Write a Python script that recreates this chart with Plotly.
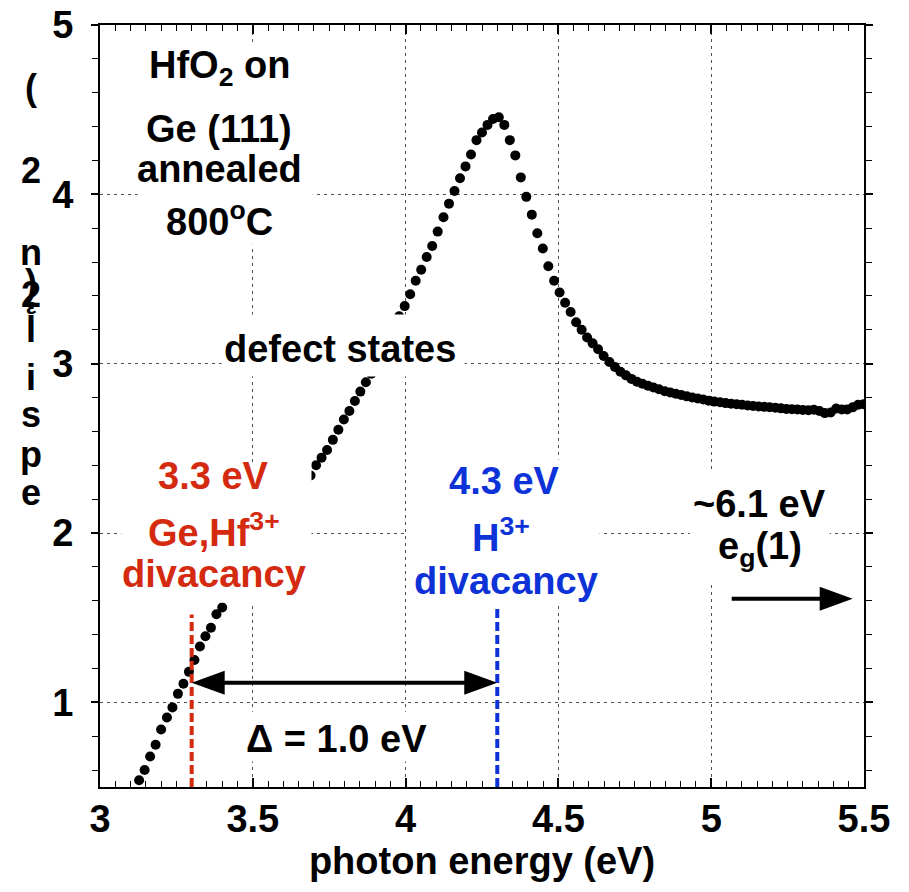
import plotly.graph_objects as go

# ---------------- data ----------------
energy_ev = [
    3.128, 3.146, 3.164, 3.182, 3.200, 3.219, 3.237, 3.255, 3.273, 3.291,
    3.309, 3.327, 3.345, 3.363, 3.381, 3.400, 3.418, 3.436, 3.454, 3.472,
    3.490, 3.508, 3.526, 3.544, 3.562, 3.581, 3.599, 3.617, 3.635, 3.653,
    3.671, 3.689, 3.707, 3.725, 3.743, 3.762, 3.780, 3.798, 3.816, 3.834,
    3.852, 3.870, 3.888, 3.906, 3.924, 3.943, 3.961, 3.979, 3.997, 4.015,
    4.033, 4.051, 4.069, 4.087, 4.105, 4.124, 4.142, 4.160, 4.178, 4.196,
    4.214, 4.232, 4.250, 4.268, 4.286, 4.305, 4.323, 4.341, 4.359, 4.377,
    4.395, 4.413, 4.431, 4.449, 4.467, 4.486, 4.504, 4.522, 4.540, 4.558,
    4.576, 4.594, 4.612, 4.630, 4.648, 4.667, 4.685, 4.703, 4.721, 4.739,
    4.757, 4.775, 4.793, 4.811, 4.829, 4.848, 4.866, 4.884, 4.902, 4.920,
    4.938, 4.956, 4.974, 4.992, 5.010, 5.029, 5.047, 5.065, 5.083, 5.101,
    5.119, 5.137, 5.155, 5.173, 5.191, 5.210, 5.228, 5.246, 5.264, 5.282,
    5.300, 5.318, 5.336, 5.354, 5.372, 5.391, 5.409, 5.427, 5.445, 5.463,
    5.481, 5.499,
]
epsilon2 = [
    0.54, 0.60, 0.68, 0.75, 0.84, 0.91, 0.97, 1.05, 1.11, 1.18,
    1.25, 1.33, 1.39, 1.44, 1.52, 1.56, 1.62, 1.68, 1.73, 1.79,
    1.84, 1.89, 1.94, 1.99, 2.04, 2.08, 2.12, 2.17, 2.21, 2.25,
    2.29, 2.34, 2.40, 2.445, 2.49, 2.55, 2.61, 2.67, 2.72, 2.78,
    2.835, 2.89, 2.94, 3.00, 3.07, 3.13, 3.20, 3.28, 3.34, 3.41,
    3.49, 3.555, 3.63, 3.695, 3.78, 3.865, 3.945, 4.02, 4.095, 4.165,
    4.235, 4.32, 4.365, 4.41, 4.445, 4.455, 4.41, 4.32, 4.23, 4.10,
    3.985, 3.88, 3.77, 3.68, 3.575, 3.49, 3.42, 3.36, 3.305, 3.245,
    3.20, 3.155, 3.12, 3.085, 3.045, 3.01, 2.98, 2.952, 2.931, 2.91,
    2.893, 2.881, 2.87, 2.859, 2.849, 2.837, 2.83, 2.822, 2.815, 2.807,
    2.80, 2.794, 2.788, 2.781, 2.776, 2.772, 2.767, 2.763, 2.76, 2.757,
    2.753, 2.75, 2.747, 2.745, 2.743, 2.74, 2.736, 2.733, 2.731, 2.729,
    2.727, 2.725, 2.728, 2.72, 2.708, 2.712, 2.735, 2.73, 2.73, 2.742,
    2.757, 2.76,
]
x_tick_vals = [3, 3.5, 4, 4.5, 5, 5.5]
x_tick_text = ["3", "3.5", "4", "4.5", "5", "5.5"]
y_tick_vals = [1, 2, 3, 4, 5]
y_tick_text = ["1", "2", "3", "4", "5"]

defect_ge_hf_ev = 3.3      # red marker line
defect_h_ev = 4.3          # blue marker line

RED = "#d42a10"
BLUE = "#0d33d8"
FONT = "Liberation Sans, Arial, Helvetica, sans-serif"
FS = 38

fig = go.Figure()
fig.add_trace(go.Scatter(
    x=energy_ev, y=epsilon2, mode="markers",
    marker=dict(size=10, color="black", line=dict(width=0)),
    hoverinfo="x+y",
))

# ---------- white label boxes (hide grid & points behind text) ----------
boxes = [
    (3.123, 3.696, 3.703, 4.885),   # HfO2 block
    (3.398, 4.193, 2.924, 3.290),   # defect states
    (3.070, 3.692, 1.589, 2.416),   # red label
    (4.007, 4.635, 1.577, 2.434),   # blue label
    (4.930, 5.388, 1.707, 2.357),   # ~6.1 eV label
    (3.457, 4.085, 0.650, 0.945),   # Delta label
]
for x0, x1, y0, y1 in boxes:
    fig.add_shape(type="rect", xref="x", yref="y", x0=x0, x1=x1, y0=y0, y1=y1,
                  fillcolor="white", line=dict(width=0), layer="above")

# ---------- dashed marker lines ----------
fig.add_shape(type="line", xref="x", yref="y", x0=defect_ge_hf_ev, x1=defect_ge_hf_ev,
              y0=0.5, y1=1.518, line=dict(color=RED, width=4, dash="9px,4px"), layer="above")
fig.add_shape(type="line", xref="x", yref="y", x0=defect_h_ev, x1=defect_h_ev,
              y0=0.5, y1=1.559, line=dict(color=BLUE, width=4, dash="9px,4px"), layer="above")

# ---------- arrows ----------
def arrow_head(xtip, ytip, direction):
    s = 1 if direction > 0 else -1
    path = f"M0,0 L{-33*s},12 L{-33*s},-12 Z"
    fig.add_shape(type="path", xref="x", yref="y", xsizemode="pixel", ysizemode="pixel",
                  xanchor=xtip, yanchor=ytip, path=path,
                  fillcolor="black", line=dict(width=0), layer="above")

y_delta = 1.116
fig.add_shape(type="line", xref="x", yref="y", x0=defect_ge_hf_ev + 0.09, x1=defect_h_ev - 0.09,
              y0=y_delta, y1=y_delta, line=dict(color="black", width=4), layer="above")
arrow_head(defect_ge_hf_ev, y_delta, -1)
arrow_head(defect_h_ev, y_delta, 1)

y_eg = 1.612
fig.add_shape(type="line", xref="x", yref="y", x0=5.067, x1=5.38,
              y0=y_eg, y1=y_eg, line=dict(color="black", width=4), layer="above")
arrow_head(5.463, y_eg, 1)

# ---------- text annotations ----------
def txt(x, y, text, color="black", size=FS, xref="x"):
    fig.add_annotation(x=x, y=y, xref=xref, yref="y", text=text, showarrow=False,
                       xanchor="center", yanchor="middle",
                       font=dict(family=FONT, size=size, color=color, weight="bold"))

txt(3.391, 4.745, "HfO<sub>2</sub> on")
txt(3.391, 4.385, "Ge (111)")
txt(3.391, 4.150, "annealed")
txt(3.391, 3.855, "800<sup>o</sup>C")
txt(3.784, 3.087, "defect states")

txt(3.3715, 2.335, "3.3 eV", RED)
txt(3.3715, 2.015, "Ge,Hf<sup>3+</sup>", RED)
txt(3.3715, 1.758, "divacancy", RED)

txt(4.324, 2.305, "4.3 eV", BLUE)
txt(4.311, 1.990, "H<sup>3+</sup>", BLUE)
txt(4.327, 1.716, "divacancy", BLUE)

txt(5.159, 2.171, "~6.1 eV")
txt(5.159, 1.905, "e<sub>g</sub>(1)")

txt(3.7725, 0.783, "\u0394 = 1.0 eV")

# garbled vertical y-axis title, character by character
ytitle_chars = [("(", 4.630), ("2", 4.140), ("n", 3.656), (")", 3.479), ("2", 3.408),
                ("\u03b5", 3.337), ("l", 3.201), ("i", 2.918), ("s", 2.700),
                ("p", 2.463), ("e", 2.239)]
for ch, yy in ytitle_chars:
    sz = 22 if ch == "\u03b5" else 36
    txt(-0.090, yy, ch, size=sz, xref="paper")

# ---------- axes ----------
fig.update_xaxes(
    range=[3, 5.5], tickvals=x_tick_vals, ticktext=x_tick_text,
    ticks="inside", ticklen=9, tickwidth=1.5, tickcolor="black",
    showline=True, linewidth=2, linecolor="black", mirror="allticks",
    showgrid=True, gridcolor="#505050", gridwidth=1, griddash="3px,4px",
    zeroline=False, ticklabelstandoff=-3,
    minor=dict(dtick=0.05, ticks="inside", ticklen=6, tickwidth=1.2,
               tickcolor="black", showgrid=False),
    tickfont=dict(family=FONT, size=FS, color="black", weight="bold"),
    title=dict(text="photon energy (eV)", standoff=6,
               font=dict(family=FONT, size=FS, color="black", weight="bold")),
)
fig.update_yaxes(
    range=[0.5, 5], tickvals=y_tick_vals, ticktext=y_tick_text,
    ticks="outside", ticklen=7, tickwidth=1.5, tickcolor="black",
    showline=True, linewidth=2, linecolor="black", mirror="allticks",
    showgrid=True, gridcolor="#505050", gridwidth=1, griddash="3px,4px",
    zeroline=False, ticklabelstandoff=10,
    minor=dict(dtick=0.2, ticks="outside", ticklen=6, tickwidth=1.2,
               tickcolor="black", showgrid=False),
    tickfont=dict(family=FONT, size=FS, color="black", weight="bold"),
)

fig.update_layout(
    width=909, height=892,
    margin=dict(l=100, r=45, t=25, b=105, autoexpand=False),
    plot_bgcolor="white", paper_bgcolor="white",
    showlegend=False,
    font=dict(family=FONT, size=FS, color="black", weight="bold"),
)

fig.write_html("out.html")
